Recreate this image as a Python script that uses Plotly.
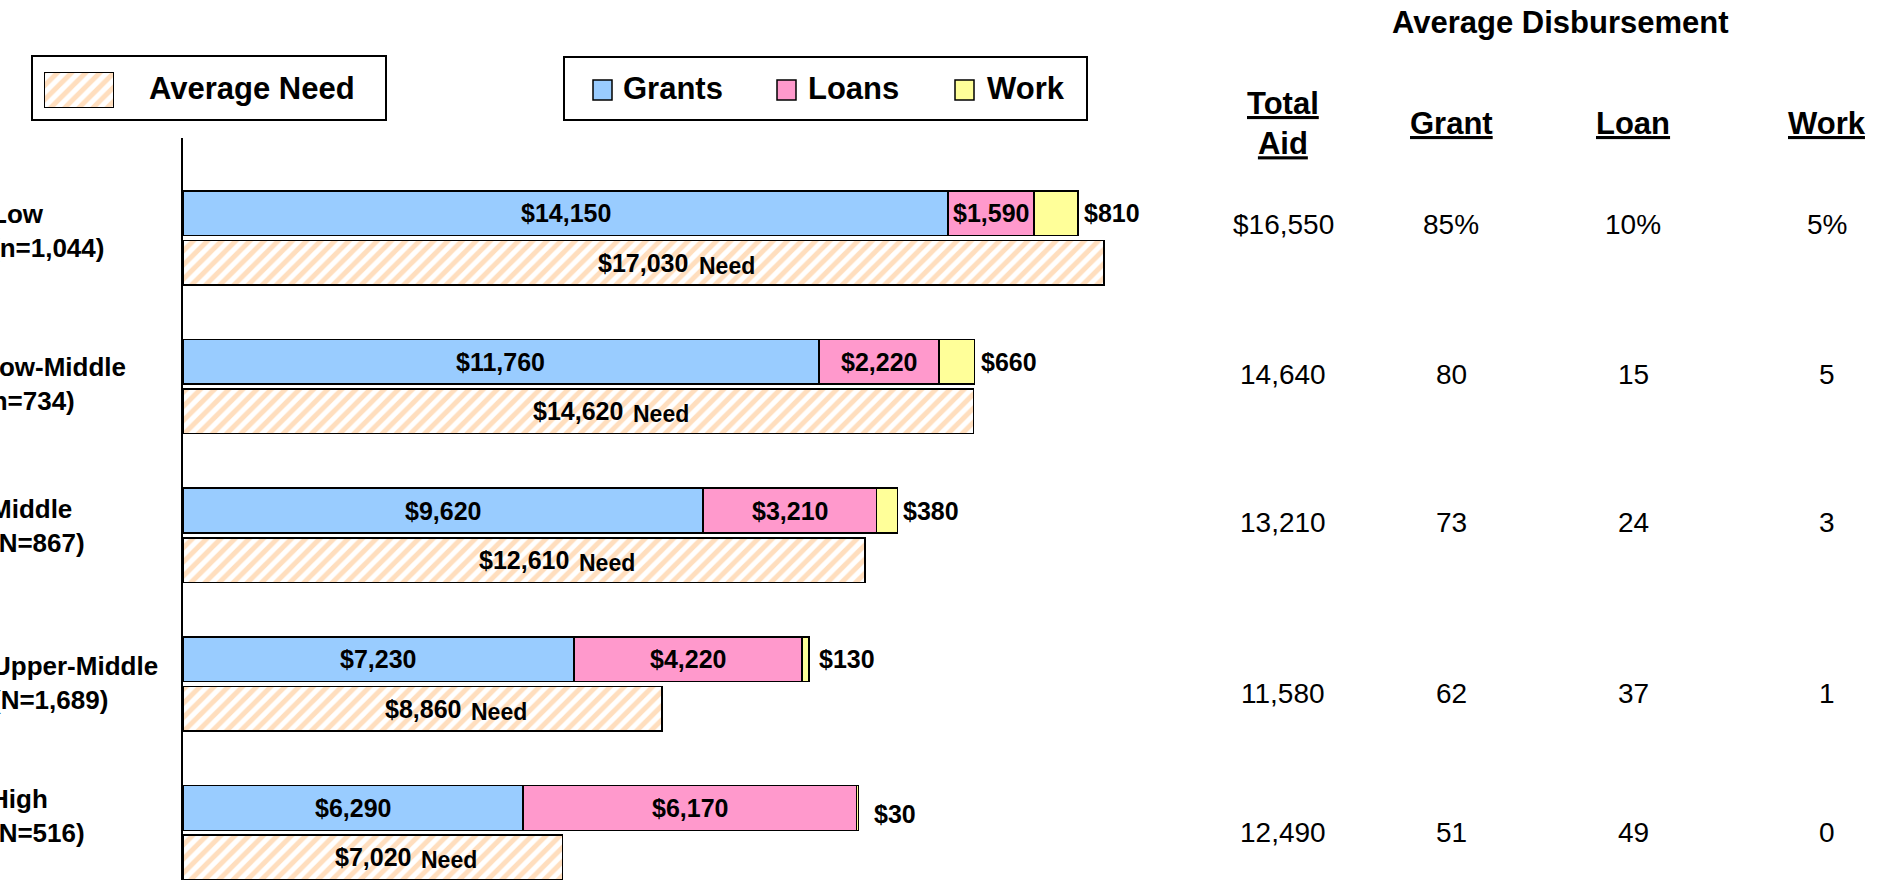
import plotly.graph_objects as go

# ---------------- data ----------------
categories = ["Low<br>(n=1,044)", "Low-Middle<br>(n=734)", "Middle<br>(N=867)",
              "Upper-Middle<br>(N=1,689)", "High<br>(N=516)"]
grants = [14150, 11760, 9620, 7230, 6290]
loans = [1590, 2220, 3210, 4220, 6170]
work = [810, 660, 380, 130, 30]
need = [17030, 14620, 12610, 8860, 7020]

table_title = "Average Disbursement"
table_headers = ["<u>Total</u><br><u>Aid</u>", "<u>Grant</u>", "<u>Loan</u>", "<u>Work</u>"]
total_aid = ["$16,550", "14,640", "13,210", "11,580", "12,490"]
pct_grant = ["85%", "80", "73", "62", "51"]
pct_loan = ["10%", "15", "24", "37", "49"]
pct_work = ["5%", "5", "3", "1", "0"]

# ---------------- styles / layout constants ----------------
W, H = 1886, 880
AX_LEFT_PX = 183
AX_TOP_PX = 138
PX_PER_DOLLAR = 0.05407
GROUP_PX = 148.7
GROUP0_PX = 237.9
BAR_W = 0.3
OFF = 0.1665

FONT = "Liberation Sans, Arial, sans-serif"
C_GRANT = "#99CCFF"
C_LOAN = "#FF99CC"
C_WORK = "#FFFF99"
C_HATCH = "#FFBE7D"
LINE = dict(color="black", width=1.5)
HATCH = dict(shape="/", fgcolor=C_HATCH, bgcolor="white", size=10, solidity=0.5)

CAT_LEFT_PX = [-11, -19, -12, -10, -12]
CAT_MID_PX = [231, 384, 526, 683, 816]
WORK_LBL_SHIFT = [(4, 0), (4, 0), (4, 0), (8, 0), (14, -6)]
TABLE_COL_X_PX = [1283, 1451, 1633, 1827]
TABLE_ROW_Y_PX = [225, 374, 522, 693, 832]
HEADER_Y_PX = 123
TITLE_XY_PX = (1560, 23)


def fx(px):
    return px / W


def fy(py):
    return 1 - py / H


def text_w(s, size):
    w = 0
    for ch in s:
        w += 0.278 if ch in ",." else 0.556
    return w * size


x_max = (W - AX_LEFT_PX) / PX_PER_DOLLAR
y_top = -(GROUP0_PX - AX_TOP_PX) / GROUP_PX
y_bot = (H - GROUP0_PX) / GROUP_PX

idx = list(range(len(categories)))
y_aid = [i - OFF for i in idx]
y_need = [i + OFF for i in idx]

fig = go.Figure()

fig.add_trace(go.Bar(x=grants, y=y_aid, orientation="h", width=BAR_W, name="Grants",
                     marker=dict(color=C_GRANT, line=LINE), hoverinfo="skip"))
fig.add_trace(go.Bar(x=loans, y=y_aid, orientation="h", width=BAR_W, name="Loans",
                     marker=dict(color=C_LOAN, line=LINE), hoverinfo="skip"))
fig.add_trace(go.Bar(x=work, y=y_aid, orientation="h", width=BAR_W, name="Work",
                     marker=dict(color=C_WORK, line=LINE), hoverinfo="skip"))
fig.add_trace(go.Bar(x=need, y=y_need, orientation="h", width=BAR_W, name="Average Need",
                     marker=dict(color="white", line=LINE, pattern=HATCH),
                     hoverinfo="skip"))

# legend swatch for "Average Need" (hatched) drawn as a tiny bar on its own axes
fig.add_trace(go.Bar(x=[1], y=[0], orientation="h", width=1, xaxis="x2", yaxis="y2",
                     marker=dict(color="white", line=LINE, pattern=HATCH),
                     hoverinfo="skip", showlegend=False))

ann = []
LBL = dict(family=FONT, size=25, color="black")
for i in idx:
    g, l, w, n = grants[i], loans[i], work[i], need[i]
    s_g, s_l, s_w, s_n = (f"${v:,}" for v in (g, l, w, n))
    ann.append(dict(x=g / 2, y=y_aid[i], xref="x", yref="y", text=f"<b>{s_g}</b>",
                    showarrow=False, font=LBL, xanchor="center", yanchor="middle"))
    ann.append(dict(x=g + l / 2, y=y_aid[i], xref="x", yref="y", text=f"<b>{s_l}</b>",
                    showarrow=False, font=LBL, xanchor="center", yanchor="middle"))
    ann.append(dict(x=g + l + w, y=y_aid[i], xref="x", yref="y", text=f"<b>{s_w}</b>",
                    showarrow=False, font=LBL, xanchor="left", yanchor="middle",
                    xshift=WORK_LBL_SHIFT[i][0], yshift=WORK_LBL_SHIFT[i][1]))
    ann.append(dict(x=n / 2, y=y_need[i], xref="x", yref="y", text=f"<b>{s_n}</b>",
                    showarrow=False, font=LBL, xanchor="center", yanchor="middle"))
    ann.append(dict(x=n / 2, y=y_need[i], xref="x", yref="y", text="<b>Need</b>",
                    showarrow=False, font=dict(family=FONT, size=23, color="black"),
                    xanchor="left", yanchor="middle",
                    xshift=text_w(s_n, 25) / 2 + 8, yshift=-3))
    # category labels (left edge cropped like the original slide)
    ann.append(dict(x=fx(CAT_LEFT_PX[i]), y=fy(CAT_MID_PX[i]), xref="paper", yref="paper",
                    text=f"<b>{categories[i]}</b>", showarrow=False,
                    xanchor="left", yanchor="middle", align="left",
                    font=dict(family=FONT, size=26, color="black")))

# right-hand table
ann.append(dict(x=fx(TITLE_XY_PX[0]), y=fy(TITLE_XY_PX[1]), xref="paper", yref="paper",
                text=f"<b>{table_title}</b>", showarrow=False,
                xanchor="center", yanchor="middle",
                font=dict(family=FONT, size=31, color="black")))
for cx, htxt in zip(TABLE_COL_X_PX, table_headers):
    ann.append(dict(x=fx(cx), y=fy(HEADER_Y_PX), xref="paper", yref="paper",
                    text=f"<b>{htxt}</b>", showarrow=False,
                    xanchor="center", yanchor="middle",
                    font=dict(family=FONT, size=31, color="black")))
for r in idx:
    for cx, col in zip(TABLE_COL_X_PX, (total_aid, pct_grant, pct_loan, pct_work)):
        ann.append(dict(x=fx(cx), y=fy(TABLE_ROW_Y_PX[r]), xref="paper", yref="paper",
                        text=col[r], showarrow=False, xanchor="center", yanchor="middle",
                        font=dict(family=FONT, size=28, color="black")))

# legend boxes and texts
LEG = dict(family=FONT, size=31, color="black")
ann.append(dict(x=fx(147), y=fy(89), xref="paper", yref="paper", text="<b>Average Need</b>",
                showarrow=False, xanchor="left", yanchor="middle", font=LEG))
legend_items = [("Grants", C_GRANT, 593, 621), ("Loans", C_LOAN, 777, 806),
                ("Work", C_WORK, 955, 985)]
shapes = [
    dict(type="rect", xref="paper", yref="paper", x0=fx(32), x1=fx(386), y0=fy(120), y1=fy(56),
         line=dict(color="black", width=2)),
    dict(type="rect", xref="paper", yref="paper", x0=fx(564), x1=fx(1087), y0=fy(120), y1=fy(57),
         line=dict(color="black", width=2)),
]
for name, col, sx, tx in legend_items:
    shapes.append(dict(type="rect", xref="paper", yref="paper", x0=fx(sx), x1=fx(sx + 19),
                       y0=fy(100), y1=fy(80), fillcolor=col,
                       line=dict(color="black", width=1.5)))
    ann.append(dict(x=fx(tx), y=fy(89), xref="paper", yref="paper", text=f"<b>{name}</b>",
                    showarrow=False, xanchor="left", yanchor="middle", font=LEG))

fig.update_layout(
    width=W, height=H, margin=dict(l=0, r=0, t=0, b=0),
    paper_bgcolor="white", plot_bgcolor="white",
    barmode="stack", showlegend=False,
    font=dict(family=FONT, color="black"),
    xaxis=dict(domain=[fx(AX_LEFT_PX), 1], range=[0, x_max], visible=False, fixedrange=True),
    yaxis=dict(domain=[0, fy(AX_TOP_PX)], range=[y_bot, y_top], showline=True,
               linecolor="black", linewidth=2, showticklabels=False, ticks="",
               showgrid=False, zeroline=False, fixedrange=True),
    xaxis2=dict(domain=[fx(44), fx(114)], range=[0, 1], visible=False, anchor="y2",
                fixedrange=True),
    yaxis2=dict(domain=[fy(108), fy(72)], range=[-0.5, 0.5], visible=False, anchor="x2",
                fixedrange=True),
    annotations=ann, shapes=shapes,
)

fig.write_html("out.html", config={"displayModeBar": False},
               post_script="document.body.style.margin='0';document.body.style.overflow='hidden';")
